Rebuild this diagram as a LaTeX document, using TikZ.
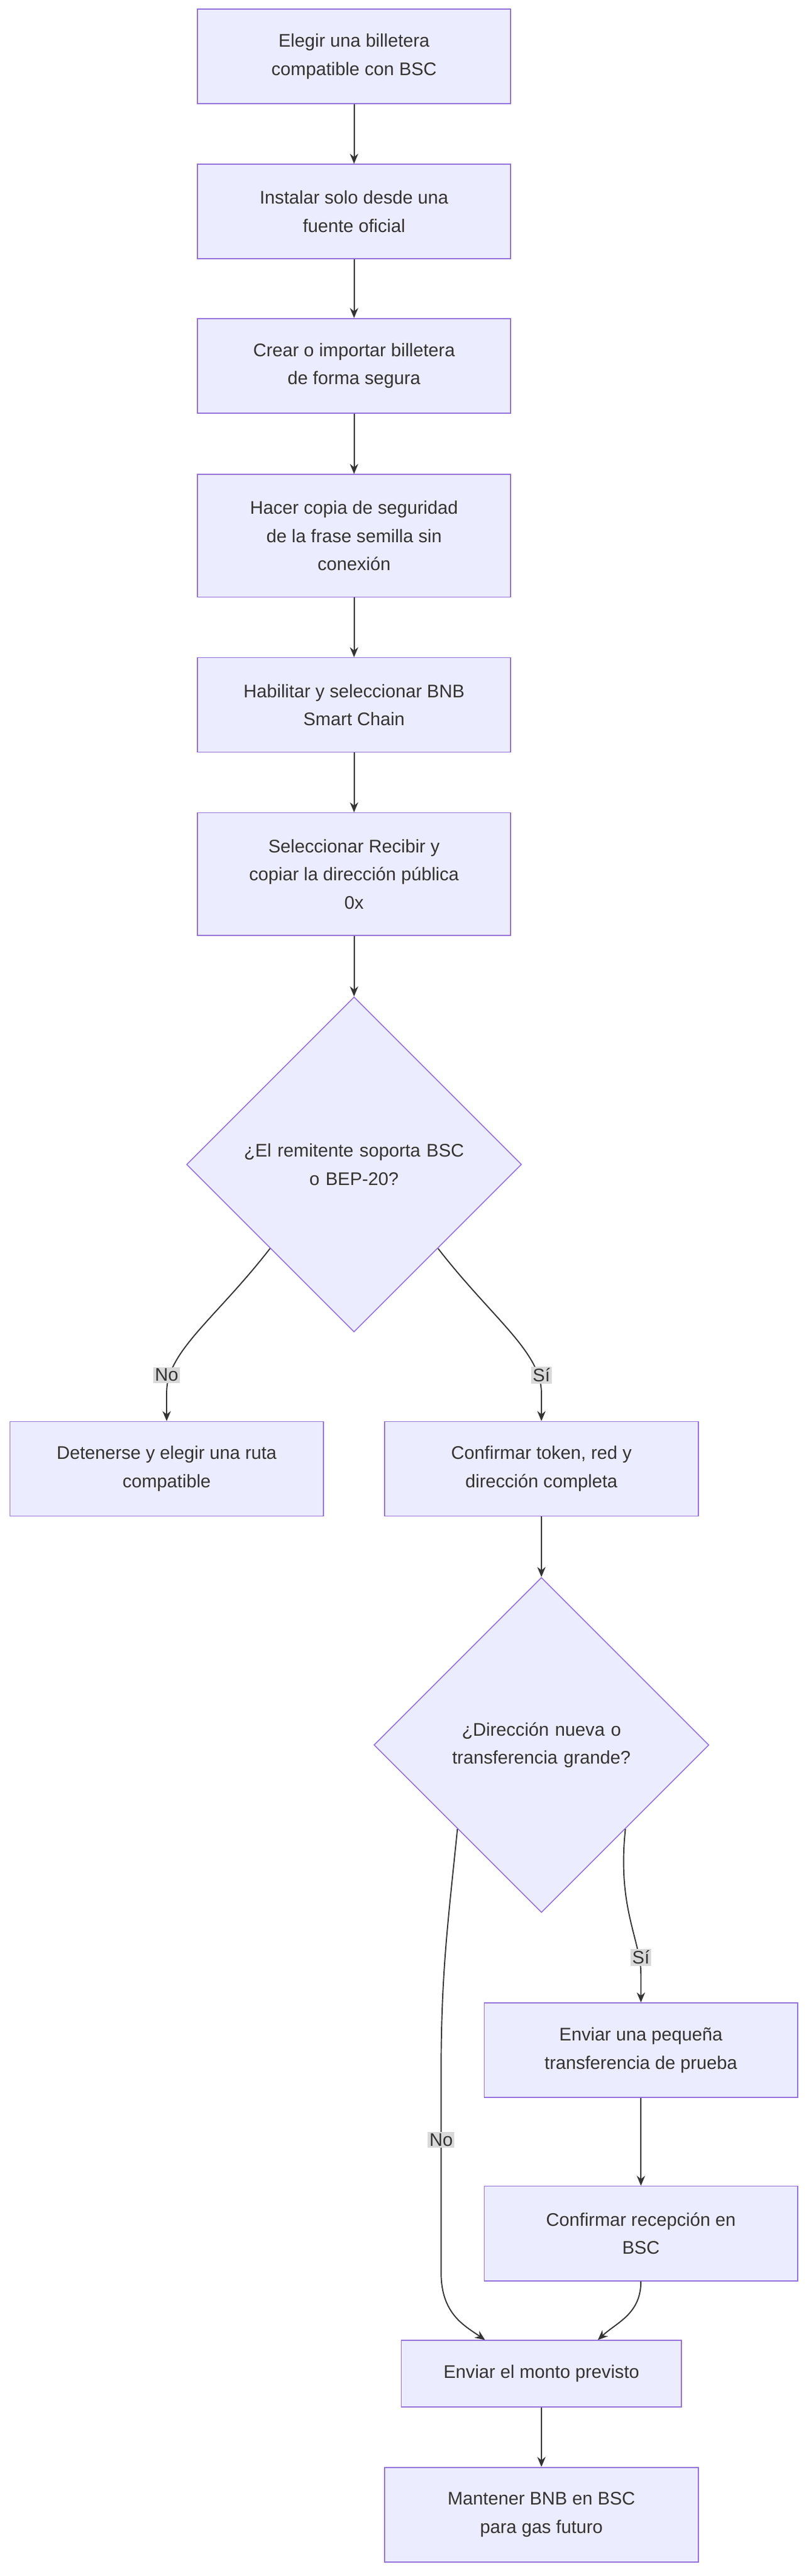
\documentclass[tikz,border=0pt]{standalone}
\usepackage{fontspec}
\setmainfont{Liberation Sans}
\usetikzlibrary{shapes.geometric,arrows.meta}
\definecolor{boxfill}{HTML}{ECECFF}
\definecolor{boxline}{HTML}{9370DB}
\definecolor{ink}{HTML}{333333}
\tikzset{
  stage/.style={draw=boxline, fill=boxfill, text=ink, minimum width=189pt, align=center,
               font=\fontsize{11}{17}\selectfont, line width=0.6pt},
  check/.style={diamond, draw=boxline, fill=boxfill, text=ink, minimum width=202pt,
                minimum height=202pt, inner sep=0pt, align=center, text width=150pt,
                font=\fontsize{11}{17}\selectfont, line width=0.6pt},
  flow/.style={draw=ink, line width=0.7pt, -{Stealth[length=6pt,width=5pt]}},
  lbl/.style={fill=black!15, text=ink, inner sep=1pt, font=\fontsize{11}{13}\selectfont}
}
\begin{document}
\begin{tikzpicture}[x=1pt, y=-1pt]
    \useasboundingbox (0,0) rectangle (489,1553);
    \fill[white] (0,0) rectangle (489,1553);
    % main chain
    \node[stage, minimum height=57pt] (pick) at (213.5,34) {Elegir una billetera\\compatible con BSC};
    \node[stage, minimum height=57pt] (install) at (213.5,127.5) {Instalar solo desde una\\fuente oficial};
    \node[stage, minimum height=57pt] (create) at (213.5,220.5) {Crear o importar billetera\\de forma segura};
    \node[stage, minimum height=74pt] (backup) at (213.5,323) {Hacer copia de seguridad\\de la frase semilla sin\\conexión};
    \node[stage, minimum height=57pt] (enable) at (213.5,425) {Habilitar y seleccionar BNB\\Smart Chain};
    \node[stage, minimum height=74pt] (receive) at (213.5,527) {Seleccionar Recibir y\\copiar la dirección pública\\0x};
    \node[check] (support) at (213.5,702) {¿El remitente soporta BSC\\o BEP-20?};
    \node[stage, minimum height=57pt] (stop) at (100.5,885.5) {Detenerse y elegir una ruta\\compatible};
    \node[stage, minimum height=57pt] (confirm) at (326.5,885.5) {Confirmar token, red y\\dirección completa};
    \node[check] (size) at (326.5,1052) {¿Dirección nueva o\\transferencia grande?};
    \node[stage, minimum height=57pt] (test) at (386.5,1236) {Enviar una pequeña\\transferencia de prueba};
    \node[stage, minimum height=57pt] (arrived) at (386.5,1346.5) {Confirmar recepción en\\BSC};
    \node[stage, minimum width=169pt, minimum height=40pt] (send) at (326.5,1431) {Enviar el monto previsto};
    \node[stage, minimum height=57pt] (keep) at (326.5,1516) {Mantener BNB en BSC\\para gas futuro};

    \draw[flow] (pick) -- (install);
    \draw[flow] (install) -- (create);
    \draw[flow] (create) -- (backup);
    \draw[flow] (backup) -- (enable);
    \draw[flow] (enable) -- (receive);
    \draw[flow] (receive) -- (support);
    \draw[flow] (support.south west) .. controls (130,795) and (100,815) .. (100.5,840) -- (stop.north);
    \draw[flow] (support.south east) .. controls (297,795) and (326.5,815) .. (326.5,840) -- (confirm.north);
    \node[lbl] (noA) at (100.5,829) {No};
    \node[lbl] (siA) at (326.5,829) {Sí};
    \draw[flow] (confirm) -- (size);
    \draw[flow] (size.south west) .. controls (270,1160) and (266,1190) .. (266,1250)
        -- (266,1370) .. controls (266,1395) and (280,1402) .. ([xshift=-34pt]send.north);
    \draw[flow] (size.south east) .. controls (372,1150) and (386.5,1170) .. (386.5,1190) -- (test.north);
    \node[lbl] (noB) at (266,1290) {No};
    \node[lbl] (siB) at (386.5,1180) {Sí};
    \draw[flow] (test) -- (arrived);
    \draw[flow] (arrived.south) .. controls (386.5,1395) and (372,1400) .. ([xshift=34pt]send.north);
    \draw[flow] (send) -- (keep);
\end{tikzpicture}
\end{document}
